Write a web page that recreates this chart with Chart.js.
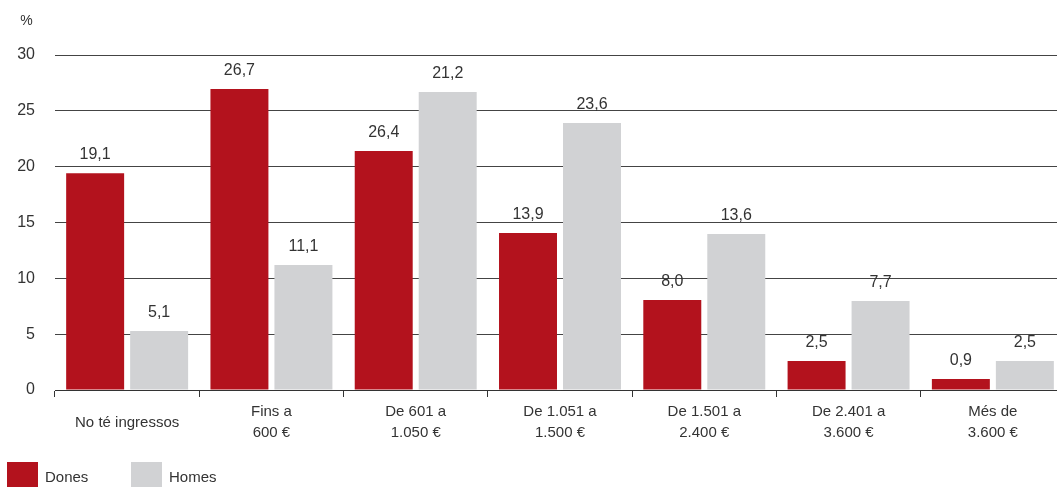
<!DOCTYPE html>
<html>
<head>
<meta charset="utf-8">
<script src="https://cdn.jsdelivr.net/npm/chart.js@4/dist/chart.umd.min.js"></script>
<style>
  html, body { margin: 0; padding: 0; background: #fff; overflow: hidden; }
  #wrap { width: 1067px; height: 487px; }
</style>
</head>
<body>
<div id="wrap"><canvas id="c" width="1067" height="487"></canvas></div>
<script>
// Categories (multi-line tick labels)
const categories = [
  ['No té ingressos'],
  ['Fins a', '600 €'],
  ['De 601 a', '1.050 €'],
  ['De 1.051 a', '1.500 €'],
  ['De 1.501 a', '2.400 €'],
  ['De 2.401 a', '3.600 €'],
  ['Més de', '3.600 €']
];
// Bar heights as drawn in the picture
const donesValues = [19.4, 26.95, 21.4, 14.05, 8.05, 2.6, 0.98];
const homesValues = [5.28, 11.19, 26.68, 23.9, 13.97, 7.97, 2.6];
// Value labels as printed in the picture
const donesLabels = ['19,1', '26,7', '26,4', '13,9', '8,0', '2,5', '0,9'];
const homesLabels = ['5,1', '11,1', '21,2', '23,6', '13,6', '7,7', '2,5'];
const seriesNames = ['Dones', 'Homes'];
const yTicks = [0, 5, 10, 15, 20, 25, 30];
const unitLabel = '%';

const RED = '#B3121D';
const GREY = '#D1D2D4';
const TEXT = '#333333';
const FONT = '"Liberation Sans", Arial, sans-serif';

const extrasPlugin = {
  id: 'extras',
  afterDatasetsDraw(chart) {
    const ctx = chart.ctx;
    const labelSets = [donesLabels, homesLabels];
    ctx.save();
    ctx.fillStyle = TEXT;
    ctx.font = '16px ' + FONT;
    ctx.textAlign = 'center';
    ctx.textBaseline = 'alphabetic';
    chart.data.datasets.forEach((ds, di) => {
      const meta = chart.getDatasetMeta(di);
      meta.data.forEach((bar, i) => {
        ctx.fillText(labelSets[di][i], bar.x, bar.y - 14);
      });
    });
    // unit label
    ctx.font = '14px ' + FONT;
    ctx.textBaseline = 'middle';
    ctx.fillText(unitLabel, 26.5, 21);
    // legend
    const items = [[7, RED, seriesNames[0]], [131, GREY, seriesNames[1]]];
    ctx.font = '15px ' + FONT;
    ctx.textAlign = 'left';
    items.forEach(([x, col, name]) => {
      ctx.fillStyle = col;
      ctx.fillRect(x, 462, 31, 26);
      ctx.fillStyle = TEXT;
      ctx.fillText(name, x + 38, 478);
    });
    ctx.restore();
  }
};

new Chart(document.getElementById('c'), {
  type: 'bar',
  data: {
    labels: categories,
    datasets: [
      { label: seriesNames[0], data: donesValues, backgroundColor: RED, borderWidth: 0 },
      { label: seriesNames[1], data: homesValues, backgroundColor: GREY, borderWidth: 0 }
    ]
  },
  options: {
    responsive: false,
    animation: false,
    devicePixelRatio: 1,
    categoryPercentage: 0.887,
    barPercentage: 0.906,
    layout: { padding: { top: 55, left: 0, right: 2, bottom: 0 } },
    plugins: { legend: { display: false }, tooltip: { enabled: false } },
    scales: {
      x: {
        grid: { display: true, drawOnChartArea: false, drawTicks: true, tickLength: 7, tickColor: '#333', offset: true },
        border: { display: true, color: '#333', width: 1 },
        ticks: {
          color: TEXT,
          font: { family: FONT, size: 15, lineHeight: 1.4 },
          padding: 15,
          crossAlign: 'center',
          maxRotation: 0,
          autoSkip: false
        },
        afterFit(scale) { scale.height = 97; }
      },
      y: {
        min: 0, max: 30,
        afterBuildTicks(scale) { scale.ticks = yTicks.map(v => ({ value: v })); },
        grid: { color: '#444', lineWidth: 1, drawTicks: false },
        border: { display: false },
        ticks: {
          color: TEXT,
          font: { family: FONT, size: 16 },
          padding: 20
        },
        afterFit(scale) { scale.width = 55; }
      }
    }
  },
  plugins: [extrasPlugin]
});
</script>
</body>
</html>
